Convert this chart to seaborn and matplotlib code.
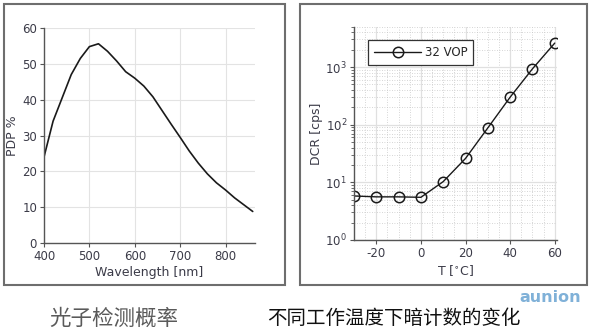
import numpy as np
import pandas as pd
import matplotlib
matplotlib.use("Agg")
import matplotlib.pyplot as plt
from matplotlib.patches import Rectangle
from matplotlib.ticker import MultipleLocator, LogLocator, NullFormatter
import seaborn as sns

# ---- data ----
wavelength = [400, 420, 440, 460, 480, 500, 520, 540, 560, 580, 600, 620, 640,
              660, 680, 700, 720, 740, 760, 780, 800, 820, 840, 860]
pdp = [24.0, 34.0, 40.5, 47.0, 51.5, 54.8, 55.6, 53.5, 50.8, 47.8, 46.0, 43.8, 40.8,
       37.0, 33.2, 29.5, 25.7, 22.3, 19.3, 16.8, 14.8, 12.6, 10.7, 8.8]

temperature = [-30, -20, -10, 0, 10, 20, 30, 40, 50, 60]
dcr = [5.8, 5.6, 5.6, 5.5, 10.3, 26, 88, 300, 930, 2600]
series_label = "32 VOP"

left_xticks = [400, 500, 600, 700, 800]
left_yticks = [0, 10, 20, 30, 40, 50, 60]
right_xticks = [-20, 0, 20, 40, 60]

caption_left = "光子检测概率"
caption_right = "不同工作温度下暗计数的变化"

# ---- style ----
sns.set_theme(style="whitegrid")
plt.rcParams['font.family'] = ['DejaVu Sans', 'Noto Sans CJK SC']
plt.rcParams['axes.unicode_minus'] = False
tick_color = '#3b3b48'
spine_color = '#555555'

fig = plt.figure(figsize=(5.94, 3.35), dpi=100)

# panel frames
W, H = 594, 335
def frame(x0, y0, x1, y1):
    fig.patches.append(Rectangle((x0 / W, 1 - y1 / H), (x1 - x0) / W, (y1 - y0) / H,
                                 transform=fig.transFigure, fill=False,
                                 edgecolor='#6e6e6e', linewidth=1.5))
frame(4, 4, 285, 285)
frame(300, 4, 587, 285)

# ---- left panel ----
axL = fig.add_axes([44 / W, 1 - 243 / H, 211 / W, 215 / H])
dfL = pd.DataFrame({"wl": wavelength, "pdp": pdp})
sns.lineplot(data=dfL, x="wl", y="pdp", ax=axL, color='#1a1a1a', linewidth=1.2)
axL.set_xlim(400, 865)
axL.set_ylim(0, 60)
axL.set_xticks(left_xticks)
axL.set_yticks(left_yticks)
axL.set_xlabel("Wavelength [nm]", fontsize=9, color=tick_color, labelpad=2)
axL.set_ylabel("PDP %", fontsize=9, color=tick_color, labelpad=2)
axL.grid(True, color='#e3e3e3', linewidth=0.8)

# ---- right panel ----
axR = fig.add_axes([354 / W, 1 - 240 / H, 203 / W, 213.3 / H])
dfR = pd.DataFrame({"T": temperature, "DCR": dcr, "series": series_label})
sns.lineplot(data=dfR, x="T", y="DCR", hue="series", palette=['#1a1a1a'], ax=axR,
             marker='o', markersize=7.5, markerfacecolor='none', markeredgecolor='#1a1a1a',
             markeredgewidth=1.1, linewidth=1.0)
axR.set_yscale('log')
axR.set_xlim(-30, 61)
axR.set_ylim(1, 5000)
axR.set_xticks(right_xticks)
axR.xaxis.set_minor_locator(MultipleLocator(5))
axR.yaxis.set_major_locator(LogLocator(base=10, numticks=10))
axR.yaxis.set_minor_locator(LogLocator(base=10, subs=np.arange(2, 10), numticks=20))
axR.yaxis.set_minor_formatter(NullFormatter())
axR.set_xlabel("T [$^{\\circ}$C]", fontsize=9, color=tick_color, labelpad=2)
axR.set_ylabel("DCR [cps]", fontsize=9, color=tick_color, labelpad=2)
axR.grid(True, which='major', color='#e0e0e0', linewidth=0.9)
axR.grid(True, which='minor', color='#c8c8c8', linewidth=0.6, linestyle=(0, (1, 2)))
leg = axR.legend(loc='upper left', bbox_to_anchor=(0.04, 0.965), fontsize=8.5,
                 frameon=True, fancybox=False, borderpad=0.5, handlelength=4.0,
                 handletextpad=0.3, title=None)
leg.get_frame().set_edgecolor('#333333')
leg.get_frame().set_linewidth(0.9)
leg.get_frame().set_alpha(1)

for ax in (axL, axR):
    for s in ('top', 'right'):
        ax.spines[s].set_visible(False)
    for s in ('left', 'bottom'):
        ax.spines[s].set_color(spine_color)
        ax.spines[s].set_linewidth(1.0)
    ax.tick_params(axis='both', which='major', labelsize=8.5, labelcolor=tick_color,
                   color=spine_color, length=3, width=0.8, pad=2, direction='out',
                   left=True, bottom=True)
    ax.tick_params(axis='y', which='minor', color=spine_color, length=2, width=0.6,
                   left=True, direction='out')
    ax.set_facecolor('white')
axR.tick_params(axis='x', which='minor', bottom=False)

# captions
fig.text(114 / W, 1 - 319 / H, caption_left, ha='center', va='center', fontsize=15.5,
         color='#5a5a5a', family=['Noto Sans CJK SC', 'DejaVu Sans'])
fig.text(394 / W, 1 - 318 / H, caption_right, ha='center', va='center', fontsize=14,
         color='#111111', family=['Noto Sans CJK SC', 'DejaVu Sans'])
# watermark
fig.text(550 / W, 1 - 297 / H, "aunion", ha='center', va='center', fontsize=11.5,
         fontweight='bold', color='#4a90c8', alpha=0.7)

fig.savefig("out.png", dpi=100)
